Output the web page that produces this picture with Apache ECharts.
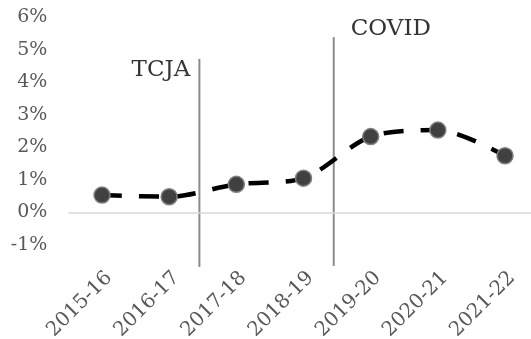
<!DOCTYPE html>
<html>
<head>
<meta charset="utf-8">
<script src="https://cdn.jsdelivr.net/npm/echarts@6/dist/echarts.min.js"></script>
<style>
  html, body { margin: 0; padding: 0; background: #fff; }
  #chart { width: 531px; height: 339px; }
</style>
</head>
<body>
<div id="chart"></div>
<script>
// Fiscal years and annual growth rate (%)
const years = ['2015-16', '2016-17', '2017-18', '2018-19', '2019-20', '2020-21', '2021-22'];
const growth = [0.53, 0.48, 0.86, 1.05, 2.33, 2.53, 1.74];

// Y-axis tick range (%)
const yMin = -1;
const yMax = 6;
const yStep = 1;

// Event markers: position on the category index scale, vertical extent (%), label placement height (%)
const eventNames = ['TCJA', 'COVID'];
const eventPos = [1.45, 3.45];
const eventBottom = [-1.68, -1.65];
const eventTop = [4.72, 5.39];
const eventLabelY = [4.39, 5.64];

const FONT = 'DejaVu Serif';

const eventLines = eventNames.map((name, i) => ({
  type: 'line',
  xAxisIndex: 1,
  yAxisIndex: 0,
  data: [[eventPos[i], eventBottom[i]], [eventPos[i], eventTop[i]]],
  symbol: 'none',
  clip: false,
  silent: true,
  lineStyle: { color: '#8c8c8c', width: 2 },
  z: 1
}));

const eventLabels = {
  type: 'scatter',
  xAxisIndex: 1,
  yAxisIndex: 0,
  symbolSize: 0,
  silent: true,
  clip: false,
  data: eventNames.map((name, i) => ({
    name: name,
    value: [eventPos[i], eventLabelY[i]],
    label: {
      show: true,
      formatter: name,
      position: i === 0 ? 'left' : 'right',
      distance: i === 0 ? 9 : 17,
      fontFamily: FONT,
      fontSize: 23,
      color: '#000'
    }
  }))
};

const chart = echarts.init(document.getElementById('chart'), null, { renderer: 'canvas' });
chart.setOption({
  animation: false,
  backgroundColor: '#fff',
  grid: {
    left: 68.4, right: -7.6, top: 17.3, bottom: 94.2,
    containLabel: false,
    outerBoundsMode: 'none'
  },
  xAxis: [
    {
      type: 'category',
      data: years,
      boundaryGap: true,
      axisLine: { show: false, onZero: false },
      axisTick: { show: false },
      splitLine: { show: false },
      axisLabel: {
        rotate: 45,
        margin: 23,
        interval: 0,
        verticalAlign: 'top',
        fontFamily: FONT,
        fontSize: 20,
        color: '#595959'
      }
    },
    {
      type: 'value',
      min: -0.5,
      max: 6.5,
      show: false
    }
  ],
  yAxis: {
    type: 'value',
    min: yMin,
    max: yMax,
    interval: yStep,
    axisLine: { show: false },
    axisTick: { show: false },
    splitLine: { show: false },
    axisLabel: {
      margin: 21,
      formatter: '{value}%',
      fontFamily: FONT,
      fontSize: 19,
      color: '#595959'
    }
  },
  series: [
    ...eventLines,
    eventLabels,
    {
      type: 'line',
      data: growth,
      smooth: 0.3,
      symbol: 'circle',
      symbolSize: 16,
      lineStyle: { color: '#000', width: 4.5, type: [20, 17] },
      itemStyle: { color: '#404040', borderColor: '#7f7f7f', borderWidth: 1.5 },
      markLine: {
        silent: true,
        symbol: 'none',
        label: { show: false },
        lineStyle: { color: '#d9d9d9', width: 1.5, type: 'solid' },
        data: [{ yAxis: 0 }]
      },
      z: 3
    }
  ]
});
</script>
</body>
</html>
